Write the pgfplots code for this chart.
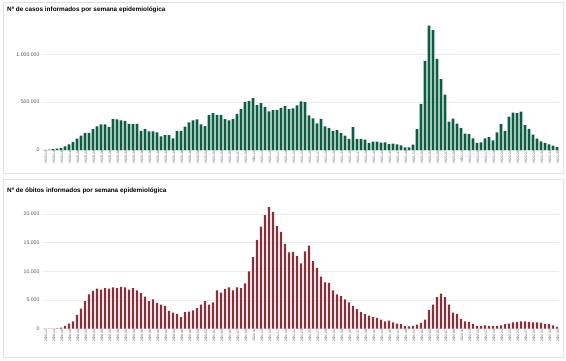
\documentclass[border=0pt]{standalone}
\usepackage{pgfplots}
\pgfplotsset{compat=1.18}
\usepackage{fontspec}
\setmainfont{Liberation Sans}
\definecolor{casegreen}{HTML}{0B5E44}
\definecolor{deathred}{HTML}{8C2E3A}
\definecolor{framegray}{HTML}{E2E2E2}
\definecolor{gridgray}{HTML}{ECECEC}
\definecolor{labgray}{HTML}{555555}

\pgfplotstableread{
i v
0 500
1 4000
2 9000
3 15000
4 22000
5 38000
6 60000
7 85000
8 118000
9 149000
10 180000
11 180000
12 219000
13 246000
14 267000
15 267000
16 239000
17 323000
18 319000
19 309000
20 305000
21 274000
22 271000
23 274000
24 201000
25 219000
26 194000
27 194000
28 184000
29 142000
30 156000
31 156000
32 121000
33 201000
34 201000
35 243000
36 288000
37 309000
38 319000
39 267000
40 250000
41 364000
42 385000
43 368000
44 368000
45 323000
46 309000
47 326000
48 378000
49 427000
50 500000
51 510000
52 541000
53 468000
54 489000
55 448000
56 403000
57 416000
58 416000
59 441000
60 458000
61 427000
62 434000
63 465000
64 507000
65 500000
66 361000
67 330000
68 278000
69 326000
70 246000
71 232000
72 198000
73 208000
74 177000
75 149000
76 115000
77 239000
78 115000
79 115000
80 108000
81 73000
82 87000
83 87000
84 76000
85 80000
86 62000
87 66000
88 59000
89 49000
90 28000
91 28000
92 55000
93 217000
94 483000
95 931000
96 1300000
97 1252000
98 952000
99 741000
100 579000
101 297000
102 328000
103 276000
104 228000
105 172000
106 166000
107 121000
108 75000
109 80000
110 121000
111 134000
112 100000
113 183000
114 270000
115 200000
116 350000
117 390000
118 385000
119 400000
120 260000
121 220000
122 160000
123 120000
124 90000
125 75000
126 60000
127 45000
128 30000
}\casos

\pgfplotstableread{
i v
0 0
1 0
2 0
3 50
4 200
5 500
6 900
7 1300
8 2400
9 3500
10 4800
11 6000
12 6600
13 7000
14 6800
15 7100
16 7000
17 7200
18 7100
19 7300
20 7200
21 6800
22 7100
23 6700
24 6200
25 5600
26 4800
27 5100
28 4500
29 4200
30 4000
31 3100
32 2800
33 2600
34 2000
35 2900
36 3000
37 3200
38 3600
39 4200
40 4800
41 4200
42 4600
43 6700
44 6300
45 6900
46 7200
47 6700
48 7200
49 7100
50 7900
51 10000
52 12500
53 15500
54 17800
55 19800
56 21200
57 20400
58 17900
59 16900
60 14800
61 13300
62 13400
63 12700
64 11400
65 13500
66 14500
67 11800
68 10600
69 9100
70 8100
71 8000
72 6700
73 6000
74 5700
75 5100
76 4600
77 4000
78 3400
79 2900
80 2600
81 2300
82 2000
83 1900
84 1600
85 1300
86 1400
87 1100
88 900
89 800
90 500
91 400
92 500
93 700
94 1000
95 1600
96 3300
97 4200
98 5500
99 6100
100 5500
101 4200
102 2800
103 2600
104 1700
105 1300
106 1200
107 800
108 500
109 500
110 600
111 500
112 500
113 500
114 600
115 800
116 900
117 1100
118 1200
119 1300
120 1300
121 1200
122 1100
123 1100
124 1000
125 800
126 800
127 600
128 300
}\obitos

\pgfplotsset{
  weekaxis/.style={
    scale only axis,
    width=516bp,
    xmin=-0.5, xmax=128.5,
    ymin=0,
    axis line style={draw=none},
    tick style={draw=none},
    ymajorgrids,
    major grid style={gridgray, line width=0.5bp},
    xtick={0,2,...,128},
    xticklabels={2020-12,2020-14,2020-16,2020-18,2020-20,2020-22,2020-24,2020-26,2020-28,2020-30,2020-32,2020-34,2020-36,2020-38,2020-40,2020-42,2020-44,2020-46,2020-48,2020-50,2020-52,2021-01,2021-03,2021-05,2021-07,2021-09,2021-11,2021-13,2021-15,2021-17,2021-19,2021-21,2021-23,2021-25,2021-27,2021-29,2021-31,2021-33,2021-35,2021-37,2021-39,2021-41,2021-43,2021-45,2021-47,2021-49,2021-51,2022-01,2022-03,2022-05,2022-07,2022-09,2022-11,2022-13,2022-15,2022-17,2022-19,2022-21,2022-23,2022-25,2022-27,2022-29,2022-31,2022-33,2022-35},
    xticklabel style={rotate=90, anchor=east, font=\fontsize{3.4}{3.4}\selectfont, text=labgray, inner sep=0.5bp, yshift=-1bp},
    yticklabel style={font=\fontsize{5.2}{6}\selectfont, text=labgray, /pgf/number format/.cd, fixed, 1000 sep={.}, assume math mode=true},
    scaled y ticks=false,
    clip=false,
  }
}

\begin{document}
\begin{tikzpicture}[x=1bp,y=1bp]
\path[use as bounding box] (0,0) rectangle (566,360);
% panel frames
\draw[framegray, line width=0.8bp] (3,187) rectangle (563,358);
\draw[framegray, line width=0.8bp] (3,3) rectangle (563,181);
% titles
\node[anchor=west, font=\fontsize{6.4}{7}\selectfont\bfseries, inner sep=0] at (7,350) {Nº de casos informados por semana epidemiológica};
\node[anchor=west, font=\fontsize{6.4}{7}\selectfont\bfseries, inner sep=0] at (7,169.5) {Nº de óbitos informados por semana epidemiológica};

\begin{axis}[weekaxis,
  at={(43bp,210bp)}, anchor=south west,
  height=129.2bp, ymax=1350000,
  ytick={0,500000,1000000}]
\addplot[ybar, bar width=2.6bp, fill=casegreen, draw=none] table[x=i, y=v] {\casos};
\end{axis}

\begin{axis}[weekaxis,
  at={(43bp,31.3bp)}, anchor=south west,
  height=126.1bp, ymax=22000,
  ytick={0,5000,10000,15000,20000}]
\addplot[ybar, bar width=2.4bp, fill=deathred, draw=none] table[x=i, y=v] {\obitos};
\end{axis}
\end{tikzpicture}
\end{document}
